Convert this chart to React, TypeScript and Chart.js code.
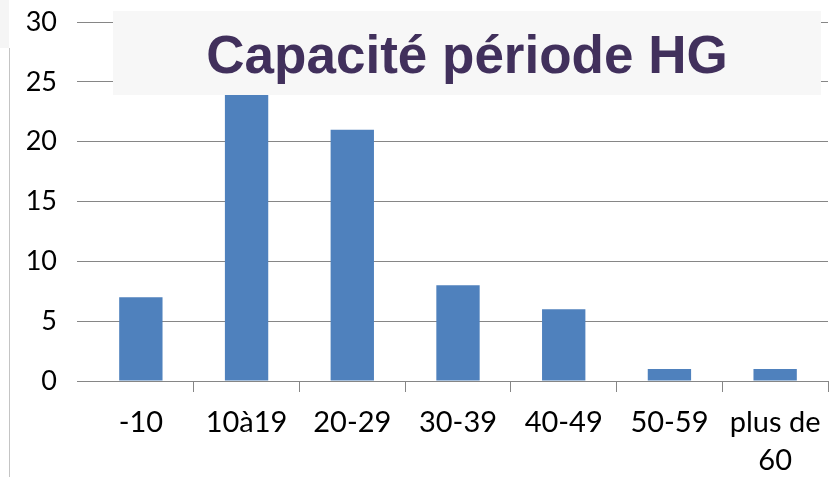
import React, { useEffect, useRef } from "react";
import { Chart, registerables } from "chart.js";

Chart.register(...registerables);

const categories: (string | string[])[] = ["-10", "10à19", "20-29", "30-39", "40-49", "50-59", ["plus de", "60"]];
const values: number[] = [7, 24, 21, 8, 6, 1, 1];
const yTicks = { min: 0, max: 30, step: 5 };
const titleText = "Capacité période HG";

const decorPlugin = {
  id: "decor",
  afterDraw(chart: any) {
    const ctx = chart.ctx as CanvasRenderingContext2D;
    ctx.save();
    ctx.fillStyle = "#f5f5f5";
    ctx.fillRect(0, 0, 9, 48);
    ctx.strokeStyle = "#c4c4c4";
    ctx.lineWidth = 1;
    ctx.beginPath();
    ctx.moveTo(9.5, 48);
    ctx.lineTo(9.5, 477);
    ctx.stroke();
    ctx.fillStyle = "#f7f7f7";
    ctx.fillRect(113, 11, 708, 84);
    ctx.fillStyle = "#41305c";
    ctx.font = "bold 53px 'Liberation Sans', Arial, sans-serif";
    ctx.textAlign = "center";
    ctx.textBaseline = "alphabetic";
    ctx.fillText(titleText, 467, 73);
    ctx.restore();
  },
};

export default function App() {
  const ref = useRef<HTMLCanvasElement | null>(null);
  useEffect(() => {
    if (!ref.current) return;
    const gray = "#868686";
    const chart = new Chart(ref.current, {
      type: "bar",
      data: {
        labels: categories,
        datasets: [
          {
            data: values,
            backgroundColor: "#4F81BD",
            borderWidth: 0,
            barPercentage: 0.41,
            categoryPercentage: 1,
          },
        ],
      },
      options: {
        responsive: false,
        animation: false,
        layout: { padding: { top: 22, right: 1, left: 0, bottom: 0 } },
        plugins: { legend: { display: false }, tooltip: { enabled: false }, title: { display: false } },
        scales: {
          x: {
            grid: {
              drawOnChartArea: false,
              drawTicks: true,
              tickLength: 11,
              color: (c: any) => (c.index === 0 ? "rgba(0,0,0,0)" : gray),
              offset: true,
            },
            border: { display: false },
            ticks: {
              color: "#000",
              font: { family: "Lato, 'Open Sans', sans-serif", size: 29, lineHeight: 1.3 },
              padding: 12,
              maxRotation: 0,
              autoSkip: false,
            },
            afterFit: (s: any) => {
              s.height = 96;
              s.paddingLeft = 0;
              s.paddingRight = 0;
            },
          },
          y: {
            min: yTicks.min,
            max: yTicks.max,
            grid: { color: gray, tickLength: 11, drawTicks: true },
            border: { display: false },
            ticks: {
              stepSize: yTicks.step,
              color: "#000",
              font: { family: "Lato, 'Open Sans', sans-serif", size: 27 },
              padding: 20,
            },
            afterFit: (s: any) => {
              s.width = 88;
              s.paddingTop = 0;
              s.paddingBottom = 0;
            },
          },
        },
      },
      plugins: [decorPlugin],
    });
    return () => chart.destroy();
  }, []);
  return (
    <div style={{ position: "fixed", left: 0, top: 0, width: 829, height: 477, background: "#fff" }}>
      <canvas ref={ref} width={829} height={477} />
    </div>
  );
}
